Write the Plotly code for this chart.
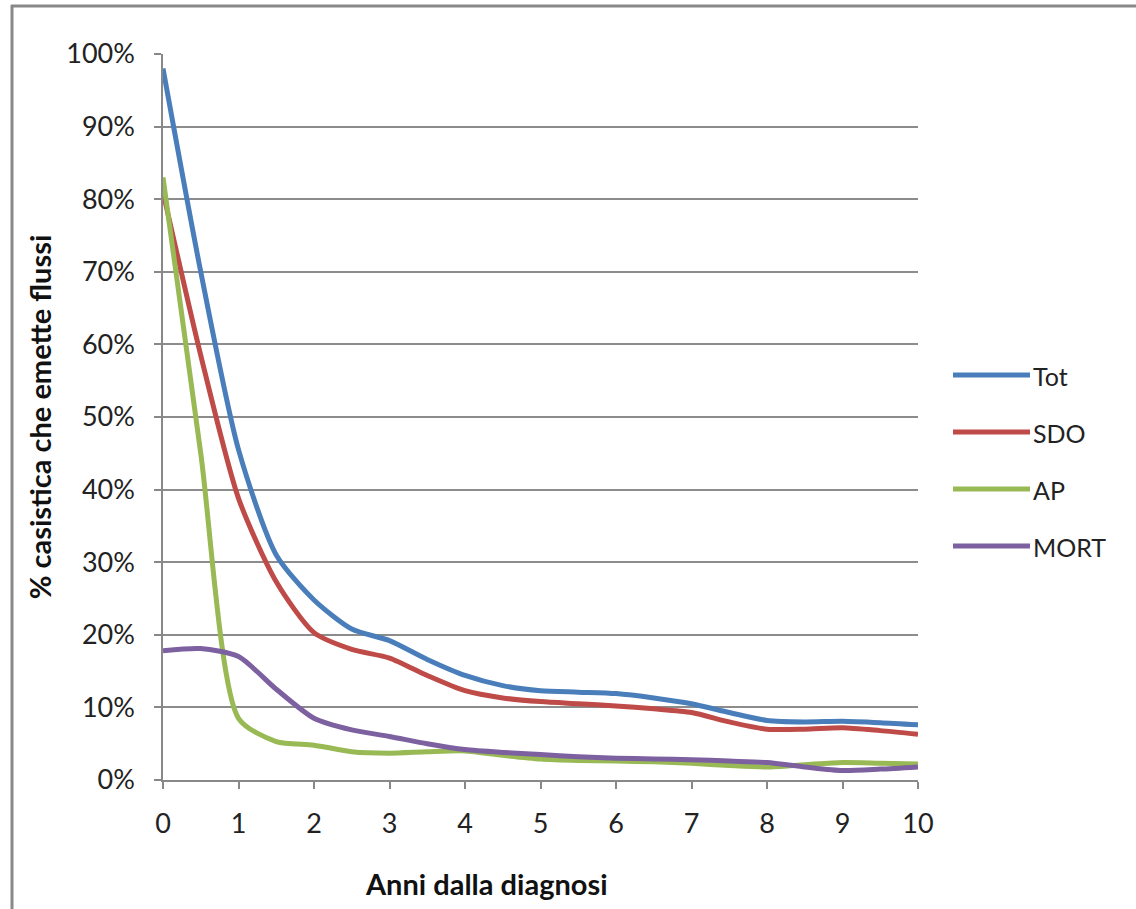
import plotly.graph_objects as go

years = [0, 0.5, 1, 1.5, 2, 2.5, 3, 3.5, 4, 4.5, 5, 5.5, 6, 6.5, 7, 7.5, 8, 8.5, 9, 9.5, 10]
tot = [98, 70, 45.5, 31, 24.8, 20.8, 19.2, 16.6, 14.4, 13.0, 12.3, 12.1, 11.9, 11.3, 10.5, 9.3, 8.2, 8.0, 8.1, 7.9, 7.6]
sdo = [81, 58.5, 38.8, 27.3, 20.3, 18.0, 16.8, 14.4, 12.3, 11.3, 10.8, 10.5, 10.2, 9.8, 9.3, 8.0, 7.0, 7.0, 7.2, 6.8, 6.3]
ap = [83, 45, 8.5, 5.3, 4.8, 3.9, 3.7, 3.9, 4.0, 3.4, 2.9, 2.7, 2.6, 2.5, 2.3, 2.0, 1.8, 2.1, 2.4, 2.3, 2.2]
mort = [17.8, 18.1, 17.0, 12.5, 8.5, 6.9, 6.0, 5.0, 4.2, 3.8, 3.5, 3.2, 3.0, 2.9, 2.8, 2.6, 2.4, 1.8, 1.3, 1.5, 1.8]

series_names = ["Tot", "SDO", "AP", "MORT"]
series_values = [tot, sdo, ap, mort]
colors = ["#4A7EBB", "#BE4B48", "#98B954", "#7D60A0"]

y_ticks = list(range(0, 101, 10))
y_tick_labels = [f"{v}%" for v in y_ticks]
x_ticks = list(range(0, 11))

FONT = "Lato"
W, H = 1136, 909
L, R, T, B = 163, 218, 54, 129
pw, ph = W - L - R, H - T - B

def px_x(px):
    return (px - L) / pw

def px_y(py):
    return (H - B - py) / ph

fig = go.Figure()
for name, vals, c in zip(series_names, series_values, colors):
    fig.add_trace(go.Scatter(
        x=years, y=vals, mode="lines", name=name,
        line=dict(color=c, width=5, shape="spline", smoothing=0.7),
        showlegend=False,
    ))

shapes = []
annotations = []
# outer chart border (left and top)
shapes.append(dict(type="line", xref="paper", yref="paper",
                   x0=px_x(12), x1=px_x(12), y0=px_y(5), y1=px_y(H + 5),
                   line=dict(color="#888888", width=3)))
shapes.append(dict(type="line", xref="paper", yref="paper",
                   x0=px_x(11), x1=px_x(W + 5), y0=px_y(6), y1=px_y(6),
                   line=dict(color="#888888", width=3)))

# manual legend
leg_y0 = 375
for i, (name, c) in enumerate(zip(series_names, colors)):
    py = leg_y0 + i * 57
    shapes.append(dict(type="line", xref="paper", yref="paper",
                       x0=px_x(953), x1=px_x(1030), y0=px_y(py), y1=px_y(py),
                       line=dict(color=c, width=5)))
    annotations.append(dict(xref="paper", yref="paper", x=px_x(1031), y=px_y(py + 1),
                            text=name, showarrow=False, xanchor="left", yanchor="middle",
                            font=dict(family=FONT, size=25, color="#222222")))

# x axis title
annotations.append(dict(xref="paper", yref="paper", x=px_x(486), y=px_y(883),
                        text="<b>Anni dalla diagnosi</b>", showarrow=False,
                        xanchor="center", yanchor="middle",
                        font=dict(family=FONT, size=29, color="#111111")))

fig.update_layout(
    width=W, height=H,
    margin=dict(l=L, r=R, t=T, b=B),
    paper_bgcolor="white", plot_bgcolor="white",
    font=dict(family=FONT, size=27, color="#222222"),
    shapes=shapes, annotations=annotations,
    showlegend=False,
)
fig.update_xaxes(
    range=[0, 10], tickvals=x_ticks, ticktext=[str(v) for v in x_ticks],
    tickfont=dict(family=FONT, size=27, color="#222222"),
    showgrid=False, showline=True, linecolor="#888888", linewidth=1.5,
    ticks="outside", ticklen=7, tickcolor="#888888", tickwidth=1.5,
    ticklabelstandoff=12,
    zeroline=False,
)
fig.update_yaxes(
    range=[0, 100], tickvals=y_ticks, ticktext=y_tick_labels,
    tickfont=dict(family=FONT, size=27, color="#222222"),
    showgrid=True, gridcolor="#8c8c8c", gridwidth=1.5,
    showline=True, linecolor="#888888", linewidth=1.5,
    ticks="outside", ticklen=7, tickcolor="#888888", tickwidth=1.5,
    ticklabelstandoff=14,
    title=dict(text="<b>% casistica che emette flussi</b>", font=dict(family=FONT, size=29, color="#111111"), standoff=6),
    zeroline=False,
)

fig.write_html("out.html")
